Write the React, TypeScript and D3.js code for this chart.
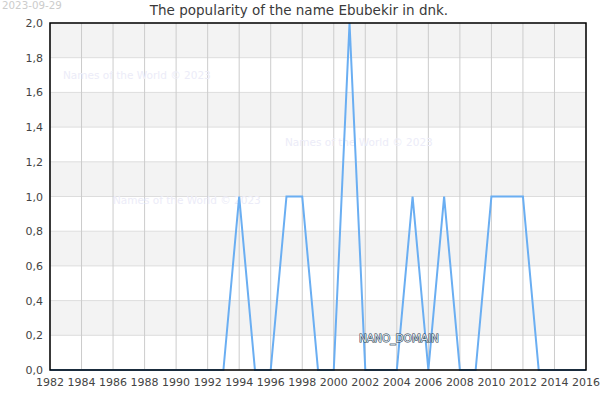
import React, { useEffect, useRef } from 'react';
import * as d3 from 'd3';

const years: number[] = [
    1982, 1983, 1984, 1985, 1986, 1987, 1988, 1989, 1990, 1991, 1992, 1993,
    1994, 1995, 1996, 1997, 1998, 1999, 2000, 2001, 2002, 2003, 2004, 2005,
    2006, 2007, 2008, 2009, 2010, 2011, 2012, 2013, 2014, 2015, 2016,
];
const counts: number[] = [
    0, 0, 0, 0, 0, 0, 0, 0, 0, 0, 0, 0,
    1, 0, 0, 1, 1, 0, 0, 2, 0, 0, 0, 1,
    0, 1, 0, 0, 1, 1, 1, 0, 0, 0, 0,
];
const xTicks: number[] = d3.range(1982, 2017, 2);
const yTicks: number[] = [0, 0.2, 0.4, 0.6, 0.8, 1.0, 1.2, 1.4, 1.6, 1.8, 2.0];
const watermarks = [
    { x: 63, y: 79 },
    { x: 285, y: 146 },
    { x: 113, y: 204 },
];

const App: React.FC = () => {
    const svgRef = useRef<SVGSVGElement | null>(null);

    useEffect(() => {
        if (!svgRef.current) return;
        const svg = d3.select(svgRef.current);
        svg.selectAll('*').remove();

        const width = 600;
        const height = 400;
        const margin = { top: 23, right: 14, bottom: 30, left: 50 };
        const font = 'DejaVu Sans, sans-serif';

        const x = d3.scaleLinear()
            .domain([1982, 2016])
            .range([margin.left, width - margin.right]);
        const y = d3.scaleLinear()
            .domain([0, 2])
            .range([height - margin.bottom, margin.top]);

        svg.append('rect')
            .attr('width', width).attr('height', height).attr('fill', '#fff');

        // alternating bands
        const bands = d3.range(0, yTicks.length - 1);
        svg.append('g').selectAll('rect')
            .data(bands)
            .enter()
            .append('rect')
            .attr('x', margin.left)
            .attr('width', x(2016) - margin.left)
            .attr('y', (i) => y(yTicks[i + 1]))
            .attr('height', (i) => y(yTicks[i]) - y(yTicks[i + 1]))
            .attr('fill', (i) => (i % 2 === 1 ? '#f3f3f3' : '#fff'));

        // grid
        svg.append('g').selectAll('line')
            .data(yTicks)
            .enter()
            .append('line')
            .attr('x1', margin.left).attr('x2', x(2016))
            .attr('y1', (d) => y(d)).attr('y2', (d) => y(d))
            .attr('stroke', '#dddddd');
        svg.append('g').selectAll('line')
            .data(xTicks)
            .enter()
            .append('line')
            .attr('x1', (d) => x(d)).attr('x2', (d) => x(d))
            .attr('y1', y(0)).attr('y2', y(2))
            .attr('stroke', '#cccccc');

        // watermarks
        svg.append('g').selectAll('text')
            .data(watermarks)
            .enter()
            .append('text')
            .attr('x', (d) => d.x).attr('y', (d) => d.y)
            .attr('font-family', font).attr('font-size', 10.5)
            .attr('fill', '#ececf8')
            .text('Names of the World © 2023');

        const line = d3.line<number>()
            .x((_, i) => x(years[i]))
            .y((d) => y(d));

        svg.append('path')
            .datum(counts)
            .attr('fill', 'none')
            .attr('stroke', '#6aaef2')
            .attr('stroke-width', 2)
            .attr('d', line);

        // frame
        svg.append('rect')
            .attr('x', margin.left).attr('y', y(2))
            .attr('width', x(2016) - margin.left)
            .attr('height', y(0) - y(2))
            .attr('fill', 'none').attr('stroke', '#000').attr('stroke-width', 1.5);

        const fmt = (d: number) => d.toFixed(1).replace('.', ',');
        svg.append('g').selectAll('text')
            .data(yTicks)
            .enter()
            .append('text')
            .attr('x', margin.left - 7).attr('y', (d) => y(d) + 4)
            .attr('text-anchor', 'end')
            .attr('font-family', font).attr('font-size', 11).attr('fill', '#444')
            .text(fmt);
        svg.append('g').selectAll('text')
            .data(xTicks)
            .enter()
            .append('text')
            .attr('x', (d) => x(d)).attr('y', y(0) + 16)
            .attr('text-anchor', 'middle')
            .attr('font-family', font).attr('font-size', 11).attr('fill', '#444')
            .text((d) => String(d));

        svg.append('text')
            .attr('x', 299).attr('y', 15)
            .attr('text-anchor', 'middle')
            .attr('font-family', font).attr('font-size', 13.5).attr('fill', '#3a3a3a')
            .text('The popularity of the name Ebubekir in dnk.');

        svg.append('text')
            .attr('x', 2).attr('y', 9)
            .attr('font-family', font).attr('font-size', 10.3).attr('fill', '#ccc')
            .text('2023-09-29');

        svg.append('text')
            .attr('x', 359).attr('y', 342)
            .attr('font-family', font).attr('font-size', 10.5)
            .attr('fill', '#dde6ee').attr('stroke', '#1e3346').attr('stroke-width', 1)
            .attr('paint-order', 'stroke')
            .text('NANO_DOMAIN');
    }, []);

    return (
        <div style={{ position: 'absolute', left: 0, top: 0 }}>
            <svg ref={svgRef} width={600} height={400}></svg>
        </div>
    );
};

export default App;
